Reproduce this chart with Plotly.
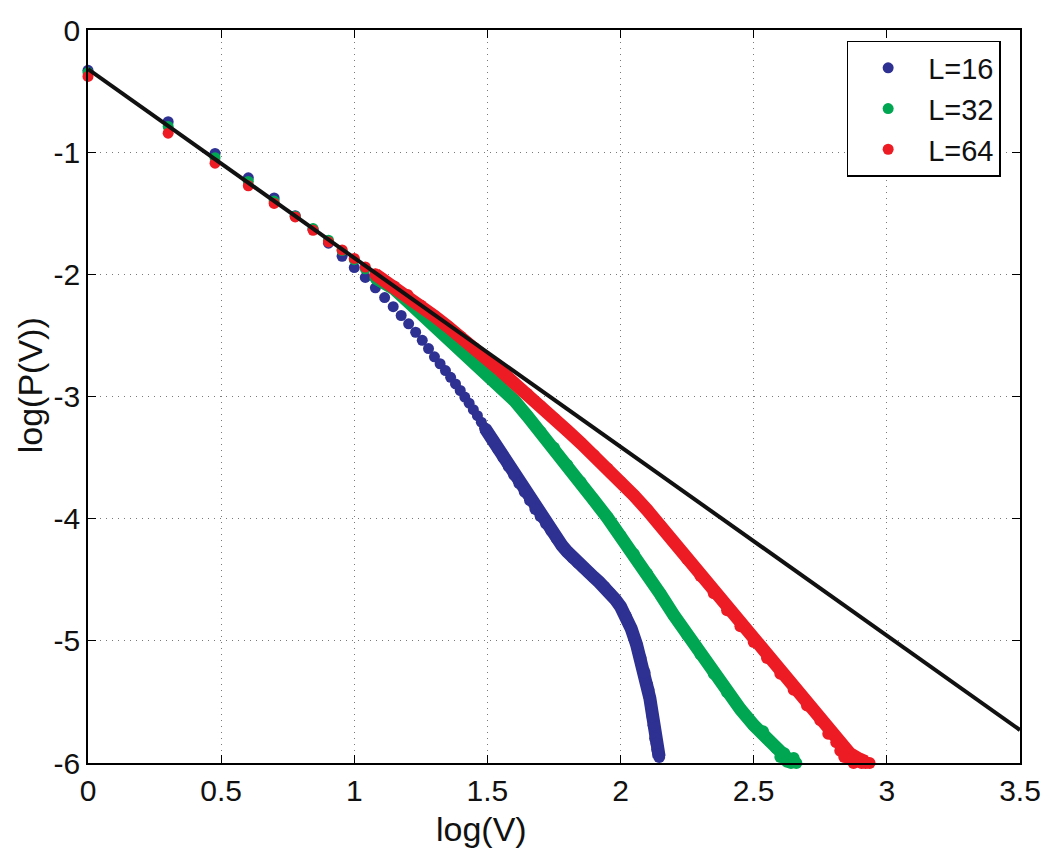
import numpy as np
import plotly.graph_objects as go

# ---------------- data ----------------
# Distinct low-V points: x = log10(V)
v16 = list(range(1, 32))
y16_pts = [-0.33, -0.75, -1.01, -1.21, -1.375, -1.52, -1.63, -1.745, -1.852, -1.945,
           -2.025, -2.11, -2.19, -2.265, -2.337, -2.405, -2.474, -2.54, -2.608, -2.675,
           -2.732, -2.788, -2.843, -2.897, -2.951, -3.005, -3.055, -3.108, -3.157, -3.21,
           -3.262]
# dense part of the L=16 curve (log V, log P)
x16_band = [1.52, 1.54, 1.56, 1.58, 1.60, 1.62, 1.64, 1.66, 1.68, 1.70, 1.72, 1.74, 1.76,
            1.78, 1.80, 1.82, 1.84, 1.86, 1.88, 1.90, 1.92, 1.94, 1.96, 1.98, 2.00, 2.02,
            2.04, 2.06, 2.075, 2.09, 2.10, 2.11, 2.118, 2.124, 2.13, 2.138, 2.145]
y16_band = [-3.36, -3.43, -3.50, -3.57, -3.64, -3.71, -3.78, -3.85, -3.92, -3.98, -4.04,
            -4.10, -4.16, -4.22, -4.27, -4.32, -4.36, -4.40, -4.44, -4.48, -4.52, -4.56,
            -4.61, -4.66, -4.72, -4.80, -4.90, -5.03, -5.14, -5.26, -5.36, -5.47, -5.58,
            -5.69, -5.80, -5.89, -5.95]
# scattered points in the tail
x16_tail = [2.105, 2.12, 2.135, 2.142]
y16_tail = [-5.40, -5.62, -5.84, -5.93]

v32 = list(range(1, 13))
y32_pts = [-0.35, -0.79, -1.045, -1.24, -1.40, -1.525, -1.625, -1.72, -1.805, -1.88,
           -1.955, -2.03]
x32_band = [1.10, 1.15, 1.20, 1.25, 1.30, 1.35, 1.40, 1.45, 1.50, 1.55, 1.60, 1.65, 1.70,
            1.75, 1.80, 1.85, 1.90, 1.95, 2.00, 2.05, 2.10, 2.15, 2.20, 2.25, 2.30, 2.35,
            2.40, 2.45, 2.50, 2.55, 2.60, 2.63, 2.655]
y32_band = [-2.05, -2.12, -2.22, -2.32, -2.42, -2.51, -2.60, -2.70, -2.80, -2.91, -3.03,
            -3.16, -3.29, -3.42, -3.56, -3.70, -3.85, -3.99, -4.14, -4.29, -4.45, -4.62,
            -4.79, -4.95, -5.11, -5.27, -5.42, -5.56, -5.69, -5.80, -5.91, -5.97, -5.99]
x32_tail = [2.535, 2.56, 2.585, 2.60, 2.615, 2.625, 2.64, 2.65, 2.66]
y32_tail = [-5.74, -5.82, -5.88, -5.95, -5.92, -5.99, -6.0, -5.96, -6.0]

v64 = list(range(1, 13))
y64_pts = [-0.38, -0.845, -1.09, -1.275, -1.42, -1.53, -1.64, -1.735, -1.80, -1.87,
           -1.94, -2.00]
x64_band = [1.10, 1.15, 1.20, 1.25, 1.30, 1.35, 1.40, 1.45, 1.50, 1.55, 1.60, 1.65, 1.70,
            1.75, 1.80, 1.85, 1.90, 1.95, 2.00, 2.05, 2.10, 2.15, 2.20, 2.25, 2.30, 2.35,
            2.40, 2.45, 2.50, 2.55, 2.60, 2.65, 2.70, 2.75, 2.80, 2.83, 2.86, 2.89, 2.92]
y64_band = [-2.03, -2.10, -2.17, -2.255, -2.34, -2.425, -2.51, -2.60, -2.69, -2.79, -2.89,
            -2.98, -3.08, -3.18, -3.28, -3.38, -3.48, -3.59, -3.70, -3.81, -3.93, -4.06,
            -4.19, -4.33, -4.47, -4.61, -4.75, -4.88, -5.01, -5.14, -5.27, -5.40, -5.53,
            -5.65, -5.77, -5.85, -5.92, -5.96, -5.99]
x64_tail = [2.78, 2.81, 2.825, 2.84, 2.86, 2.875, 2.89, 2.905, 2.92, 2.935]
y64_tail = [-5.76, -5.83, -5.90, -5.95, -5.97, -6.0, -5.98, -6.0, -6.0, -6.0]

# power-law fit line
fit_x = [0.0, 3.5]
fit_y = [-0.32, -5.73]

series_names = ["L=16", "L=32", "L=64"]
series_colors = ["#2E3192", "#00A651", "#ED1C24"]

xtick_vals = [0, 0.5, 1, 1.5, 2, 2.5, 3, 3.5]
xtick_text = ["0", "0.5", "1", "1.5", "2", "2.5", "3", "3.5"]
ytick_vals = [-6, -5, -4, -3, -2, -1, 0]
ytick_text = ["-6", "-5", "-4", "-3", "-2", "-1", "0"]
x_title = "log(V)"
y_title = "log(P(V))"

# ---------------- figure ----------------
FONT = "Liberation Sans, Arial, Helvetica, sans-serif"
MS = 11
FS = 30
TFS = 34

fig = go.Figure()
series = [
    (v16, y16_pts, x16_band, y16_band, x16_tail, y16_tail),
    (v32, y32_pts, x32_band, y32_band, x32_tail, y32_tail),
    (v64, y64_pts, x64_band, y64_band, x64_tail, y64_tail),
]
for (v, yp, xb, yb, xt, yt), name, col in zip(series, series_names, series_colors):
    xp = list(np.log10(np.array(v, dtype=float)))
    # band: thick line through the densely packed markers
    fig.add_trace(go.Scatter(
        x=[xp[-1]] + xb, y=[yp[-1]] + yb, mode="lines+markers",
        line=dict(color=col, width=MS + 2),
        marker=dict(color=col, size=MS + 1, line=dict(width=0)),
        showlegend=False, hoverinfo="skip", cliponaxis=False))
    fig.add_trace(go.Scatter(
        x=xt, y=yt, mode="markers",
        marker=dict(color=col, size=MS + 1, line=dict(width=0)),
        showlegend=False, hoverinfo="skip", cliponaxis=False))
    fig.add_trace(go.Scatter(
        x=xp, y=yp, mode="markers", name=name, cliponaxis=False,
        marker=dict(color=col, size=MS, line=dict(width=0))))

fig.add_trace(go.Scatter(x=fit_x, y=fit_y, mode="lines",
                         line=dict(color="#111111", width=4), showlegend=False))

axis_common = dict(
    showline=True, linecolor="black", linewidth=1.5, mirror="ticks",
    ticks="inside", ticklen=8, tickwidth=1, tickcolor="black",
    showgrid=True, gridcolor="#7a7a7a", gridwidth=1, griddash="1px,5px",
    zeroline=False, tickfont=dict(family=FONT, size=FS, color="#111"),
)
fig.update_xaxes(range=[0, 3.5], tickvals=xtick_vals, ticktext=xtick_text, **axis_common)
fig.update_yaxes(range=[-6, 0], tickvals=ytick_vals, ticktext=ytick_text, **axis_common)

fig.add_annotation(text=x_title, xref="paper", yref="paper", x=0.4217, y=-0.0900,
                   xanchor="center", yanchor="middle", showarrow=False,
                   font=dict(family=FONT, size=TFS, color="#111"))
fig.add_annotation(text=y_title, xref="paper", yref="paper", x=-0.0622, y=0.5153,
                   xanchor="center", yanchor="middle", showarrow=False, textangle=-90,
                   font=dict(family=FONT, size=TFS, color="#111"))

fig.update_layout(
    width=1050, height=848,
    margin=dict(l=88, r=30, t=30, b=85, autoexpand=False),
    paper_bgcolor="white", plot_bgcolor="white",
    font=dict(family=FONT, color="#111"),
    legend=dict(x=0.814, y=0.985, xanchor="left", yanchor="top",
                bgcolor="white", bordercolor="black", borderwidth=1.5,
                font=dict(family=FONT, size=29, color="#111"),
                itemwidth=70, tracegroupgap=0),
)

fig.write_html("out.html")
